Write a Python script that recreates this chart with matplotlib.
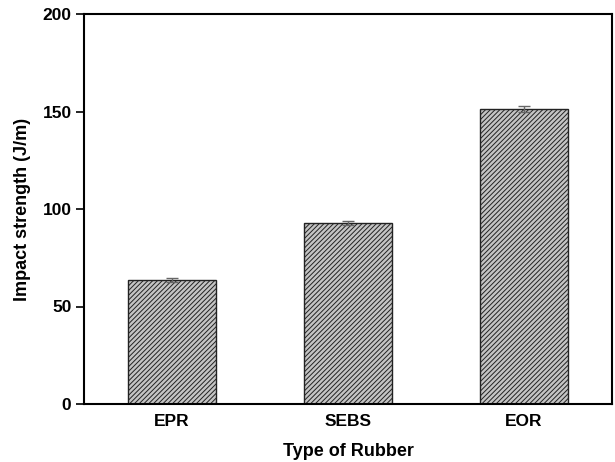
import matplotlib.pyplot as plt
import numpy as np

plt.rcParams['font.family'] = ['Liberation Sans', 'DejaVu Sans']
plt.rcParams['hatch.color'] = '#505050'
plt.rcParams['hatch.linewidth'] = 0.7

# Impact strength per rubber type
rubbers = ['EPR', 'SEBS', 'EOR']
strength = [63.6, 92.8, 151.3]
strength_err = [0.8, 1.2, 1.3]

fig = plt.figure(figsize=(6.15, 4.62), dpi=100)
ax = fig.add_axes([84 / 615, 58 / 462, 528 / 615, 390 / 462])

x = np.arange(len(rubbers))
ax.bar(x, strength, 0.5, color='#c4c4c4', edgecolor='#222222', linewidth=1.0,
       hatch='///////', zorder=2)
ax.errorbar(x, strength, yerr=strength_err, fmt='none', ecolor='#666666',
            elinewidth=1.0, capsize=4, capthick=1.0, zorder=3)

ax.set_xlim(-0.5, 2.5)
ax.set_ylim(0, 200)
ax.set_yticks([0, 50, 100, 150, 200])
ax.set_xticks(x)
ax.set_xticklabels(rubbers)

ax.tick_params(axis='y', direction='out', length=6, width=1.2, labelsize=12.5, pad=3)
ax.tick_params(axis='x', length=0, labelsize=12.5, pad=7)
for lbl in ax.get_xticklabels() + ax.get_yticklabels():
    lbl.set_fontweight('bold')
for s in ax.spines.values():
    s.set_linewidth(1.5)

ax.set_xlabel('Type of Rubber', fontsize=13, fontweight='bold', labelpad=10)
ax.set_ylabel('Impact strength (J/m)', fontsize=13, fontweight='bold', labelpad=8)

fig.savefig('out.png', dpi=100)
